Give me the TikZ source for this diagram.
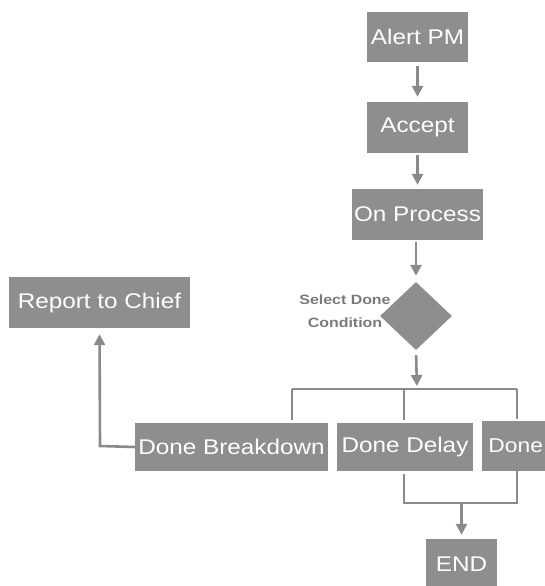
\documentclass[tikz,border=0pt]{standalone}
\usepackage{fontspec}
\usetikzlibrary{shapes.geometric,arrows.meta}
\newfontfamily\boxfont[FakeStretch=1.14]{Liberation Sans}
\newfontfamily\labfont[FakeStretch=1.18]{Liberation Sans}
\definecolor{boxgray}{HTML}{8E8E8E}
\definecolor{linegray}{HTML}{8A8A8A}
\definecolor{labgray}{HTML}{7A7A7A}
\tikzset{
  stepbox/.style={fill=boxgray, draw=none, inner sep=0pt, text=white,
    font=\boxfont\fontsize{21.3}{24}\selectfont, anchor=center},
  decision/.style={diamond, fill=boxgray, draw=none, inner sep=0pt,
    minimum width=72pt, minimum height=68pt},
  declabel/.style={text=labgray, align=center, inner sep=0pt,
    font=\labfont\bfseries\fontsize{13.5}{23}\selectfont},
  conn/.style={draw=linegray, line width=2.6pt},
  arr/.style={conn, -{Triangle[length=11pt,width=11pt]}},
}
\begin{document}
\begin{tikzpicture}[x=1pt,y=-1pt]
\useasboundingbox (0,0) rectangle (545,586);
\clip (0,0) rectangle (545,586);
% nodes
\node[stepbox, minimum width=101pt, minimum height=50pt] (alert) at (417.5,37) {Alert PM};
\node[stepbox, minimum width=101pt, minimum height=51pt] (accept) at (417.5,127.5) {Accept};
\node[stepbox, minimum width=131pt, minimum height=51pt] (proc) at (417.5,214.5) {On Process};
\node[decision] (dec) at (416,316) {};
\node[declabel] (declab) at (345,311) {Select Done\\Condition};
\node[stepbox, minimum width=181pt, minimum height=51pt] (report) at (99.5,302.5) {Report to Chief};
\node[stepbox, minimum width=193pt, minimum height=48pt] (dbreak) at (231.5,447) {Done Breakdown};
\node[stepbox, minimum width=136pt, minimum height=48pt] (ddelay) at (405,447) {Done Delay};
\node[stepbox, minimum width=70pt, minimum height=50pt, anchor=west,
  font=\boxfont\fontsize{20}{24}\selectfont] (done) at (482,446) {\hspace*{6pt}Done\hspace*{9pt}};
\node[stepbox, minimum width=71pt, minimum height=51pt] (endn) at (461.5,564.5) {END};
% coordinates for bracket and merge
\coordinate (split) at (417,389);
\coordinate (bl) at (292,389);
\coordinate (br) at (517,389);
\coordinate (bm) at (404,389);
\coordinate (ml) at (404,503);
\coordinate (mr) at (517,503);
\coordinate (mm) at (461.5,503);
\coordinate (rc) at (100,446);
% connectors
\draw[arr, shorten <=4pt, shorten >=5pt] (alert.south) -- (accept.north);
\draw[arr, shorten <=2pt, shorten >=4pt] (accept.south) -- (proc.north);
\draw[arr, shorten <=2pt, shorten >=6pt] (proc.south -| dec.north) -- (dec.north);
\draw[arr, shorten <=5pt, shorten >=3pt] (dec.south) -- (split);
\draw[conn] (bl) -- (br);
\draw[conn, shorten >=3pt] (bl) -- (bl |- dbreak.north);
\draw[conn, shorten >=3pt] (bm) -- (bm |- ddelay.north);
\draw[conn, shorten >=2pt] (br) -- (br |- done.north);
\draw[conn, shorten <=3pt] (ml |- ddelay.south) -- (ml) -- (mr) -- (mr |- done.south);
\draw[arr, shorten >=4pt] (mm) -- (endn.north);
\draw[arr, shorten >=6pt] (dbreak.west) -- (rc) -- (report.south);
\end{tikzpicture}
\end{document}
